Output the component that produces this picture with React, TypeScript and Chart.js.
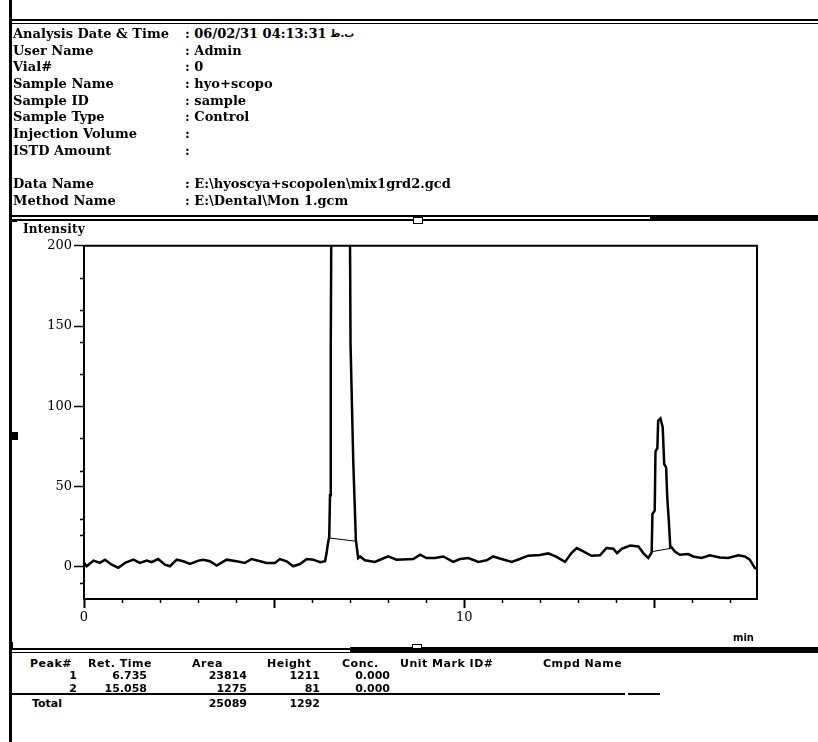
import React, { useEffect, useRef } from "react";
import { Chart, registerables } from "chart.js";

Chart.register(...registerables);

// ---------- chromatogram data ----------
const TIME_MIN = [
  0.0, 0.07, 0.25, 0.42, 0.55, 0.73, 0.9, 1.08, 1.3, 1.47, 1.65, 1.78, 1.95, 2.13, 2.26, 2.44, 2.61, 2.79,
  3.01, 3.14, 3.31, 3.49, 3.75, 4.01, 4.23, 4.41, 4.63, 4.8, 5.02, 5.15, 5.33, 5.5, 5.68, 5.86, 6.03, 6.21,
  6.34, 6.38, 6.41, 6.45, 6.47, 6.49, 6.55, 6.62, 6.7, 6.74, 6.8, 6.88, 6.95, 7.01, 7.08, 7.15, 7.21, 7.26,
  7.39, 7.65, 7.83, 8.0, 8.22, 8.66, 8.84, 9.01, 9.23, 9.45, 9.71, 9.89, 10.11, 10.37, 10.59, 10.76, 10.98,
  11.25, 11.46, 11.68, 11.99, 12.21, 12.43, 12.65, 12.82, 12.96, 13.13, 13.35, 13.57, 13.74, 13.92, 14.02,
  14.14, 14.36, 14.58, 14.71, 14.84, 14.93, 14.95, 15.01, 15.03, 15.08, 15.1, 15.16, 15.22, 15.26, 15.31,
  15.34, 15.38, 15.42, 15.45, 15.54, 15.67, 15.89, 16.02, 16.24, 16.46, 16.72, 16.94, 17.21, 17.38, 17.51,
  17.64, 17.7,
];
const INTENSITY = [
  2.5, 0.4, 3.9, 2.5, 4.5, 1.4, -0.6, 2.5, 4.5, 2.5, 3.9, 2.9, 4.9, 1.4, 0.4, 4.5, 3.5, 1.8,
  3.9, 4.5, 3.5, 0.8, 4.5, 3.5, 2.5, 4.9, 3.5, 2.5, 2.5, 4.9, 3.5, 0.4, 1.8, 4.9, 4.5, 2.9,
  3.5, 8.6, 13.8, 18.9, 44.6, 137, 450, 900, 1180, 1228, 1150, 800, 420, 139, 67, 17, 5.5, 6.5,
  4.1, 3.1, 4.9, 6.5, 4.5, 4.9, 7.6, 5.5, 5.5, 6.5, 3.1, 4.9, 5.5, 3.1, 4.1, 6.5, 4.9,
  3.1, 4.9, 7.0, 7.4, 8.4, 6.2, 3.1, 8.6, 11.7, 9.6, 6.9, 7.2, 11.7, 11.3, 8.6,
  11.3, 13.3, 12.7, 8.6, 5.5, 9.0, 33, 35, 72, 74, 91, 92.5, 87, 64, 62,
  43, 29, 12, 12.3, 9.6, 7.6, 8.0, 6.5, 5.5, 7.2, 5.9, 5.5, 7.2, 6.5, 4.5,
  -0.6, -1.5,
];
// integration baselines of the two peaks
const BASE1_T = [6.45, 7.15];
const BASE1_V = [18.0, 16.0];
const BASE2_T = [14.94, 15.42];
const BASE2_V = [9.5, 11.5];

// axes
const X_MIN = 0;
const X_MAX = 17.7;
const X_MAJOR_STEP = 5;
const X_LABELS = [0, 10];
const X_MINOR = [1, 2, 3, 4, 6, 7, 8, 9, 11, 12, 13, 14, 16, 17];
const Y_MIN = -20;
const Y_MAX = 200;
const Y_STEP = 50;
const Y_MINOR = [180, 160, 140, 120, 80, 60, 30, 20, -10];

// header
const HEADER_LABELS = [
  "Analysis Date & Time",
  "User Name",
  "Vial#",
  "Sample Name",
  "Sample ID",
  "Sample Type",
  "Injection Volume",
  "ISTD Amount",
  "Data Name",
  "Method Name",
];
const HEADER_VALUES = [
  "06/02/31 04:13:31",
  "Admin",
  "0",
  "hyo+scopo",
  "sample",
  "Control",
  "",
  "",
  "E:\\hyoscya+scopolen\\mix1grd2.gcd",
  "E:\\Dental\\Mon 1.gcm",
];
const HEADER_ROWS_Y = [33, 50, 66.5, 83, 100, 116.5, 133, 150, 183, 200];

// peak table
const TABLE_HEADERS = ["Peak#", "Ret. Time", "Area", "Height", "Conc.", "Unit Mark ID#", "Cmpd Name"];
const TABLE_HEADER_X = [30, 88, 192, 267, 342, 400, 543];
const PEAK_IDS = ["1", "2"];
const RET_TIMES = ["6.735", "15.058"];
const AREAS = ["23814", "1275"];
const HEIGHTS = ["1211", "81"];
const CONCS = ["0.000", "0.000"];
const TOTAL_AREA = "25089";
const TOTAL_HEIGHT = "1292";
const COL_RIGHT = [77, 147, 247, 320, 390];
const ROWS_Y = [675.5, 688];

const decorPlugin = {
  id: "decor",
  afterDraw(chart: any) {
    const { ctx, chartArea, scales } = chart;
    const { left, right, top, bottom } = chartArea;
    ctx.save();
    ctx.strokeStyle = "#000";
    ctx.lineWidth = 2;
    ctx.beginPath();
    ctx.moveTo(left, top);
    ctx.lineTo(right + 1, top);
    ctx.moveTo(right, top);
    ctx.lineTo(right, bottom);
    ctx.stroke();
    ctx.lineWidth = 1.5;
    X_MINOR.forEach((v) => {
      const px = Math.round(scales.x.getPixelForValue(v)) + 0.5;
      ctx.beginPath();
      ctx.moveTo(px, bottom);
      ctx.lineTo(px, bottom + 4);
      ctx.stroke();
    });
    Y_MINOR.forEach((v) => {
      const py = Math.round(scales.y.getPixelForValue(v)) + 0.5;
      ctx.beginPath();
      ctx.moveTo(left - 4, py);
      ctx.lineTo(left, py);
      ctx.stroke();
    });
    ctx.restore();
  },
};

function ChromChart() {
  const ref = useRef<HTMLCanvasElement | null>(null);
  useEffect(() => {
    if (!ref.current) return;
    const chart = new Chart(ref.current, {
      type: "line",
      data: {
        datasets: [
          {
            data: TIME_MIN.map((t, i) => ({ x: t, y: INTENSITY[i] })),
            borderColor: "#000",
            borderWidth: 2.5,
            pointRadius: 0,
            tension: 0,
            clip: 0,
          } as any,
          {
            data: BASE1_T.map((t, i) => ({ x: t, y: BASE1_V[i] })),
            borderColor: "#000",
            borderWidth: 1,
            pointRadius: 0,
          },
          {
            data: BASE2_T.map((t, i) => ({ x: t, y: BASE2_V[i] })),
            borderColor: "#000",
            borderWidth: 1,
            pointRadius: 0,
          },
        ],
      },
      options: {
        animation: false,
        responsive: false,
        devicePixelRatio: 1,
        layout: { padding: { top: 7, right: 61, left: 0, bottom: 0 } },
        plugins: { legend: { display: false }, tooltip: { enabled: false } },
        scales: {
          x: {
            type: "linear",
            min: X_MIN,
            max: X_MAX,
            border: { color: "#000", width: 2 },
            grid: { drawOnChartArea: false, tickLength: 9, tickColor: "#000", tickWidth: 2 },
            ticks: {
              stepSize: X_MAJOR_STEP,
              autoSkip: false,
              includeBounds: false,
              maxRotation: 0,
              padding: 2,
              color: "#000",
              font: { family: "DejaVu Serif", size: 13 },
              callback: (v: any) => (X_LABELS.includes(Number(v)) ? String(v) : ""),
            },
            afterFit: (s: any) => {
              s.height = 41;
            },
          },
          y: {
            type: "linear",
            min: Y_MIN,
            max: Y_MAX,
            border: { color: "#000", width: 2 },
            grid: { drawOnChartArea: false, tickLength: 10, tickColor: "#000", tickWidth: 1.5 },
            ticks: {
              stepSize: Y_STEP,
              includeBounds: false,
              padding: 2,
              color: "#000",
              font: { family: "DejaVu Serif", size: 13 },
            },
            afterFit: (s: any) => {
              s.width = 84;
            },
          },
        },
      },
      plugins: [decorPlugin],
    });
    return () => chart.destroy();
  }, []);
  return (
    <canvas
      ref={ref}
      width={818}
      height={404}
      style={{ position: "absolute", left: 0, top: 236, width: 818, height: 404 }}
    />
  );
}

const abs = (s: React.CSSProperties): React.CSSProperties => ({ position: "absolute", ...s });

function Txt({ x, y, children, size = 13, family = "DejaVu Serif", weight = "bold", right, ls = 0 }: any) {
  const lh = size + 4;
  if (right !== undefined) {
    return (
      <div
        style={abs({
          left: right - 150,
          width: 150,
          top: y - lh / 2,
          height: lh,
          lineHeight: `${lh}px`,
          fontSize: size,
          fontFamily: family,
          fontWeight: weight,
          textAlign: "right",
          whiteSpace: "pre",
          letterSpacing: ls,
          color: "#000",
        })}
      >
        {children}
      </div>
    );
  }
  return (
    <div
      style={abs({
        left: x,
        top: y - lh / 2,
        height: lh,
        lineHeight: `${lh}px`,
        fontSize: size,
        fontFamily: family,
        fontWeight: weight,
        whiteSpace: "pre",
        letterSpacing: ls,
        color: "#000",
      })}
    >
      {children}
    </div>
  );
}

export default function App() {
  const tbl = { family: "DejaVu Sans", size: 11, weight: "bold" };
  return (
    <div
      style={abs({
        left: 0,
        top: 0,
        width: 818,
        height: 742,
        background: "#fff",
        overflow: "hidden",
      })}
    >
      <ChromChart />

      {/* frame lines */}
      <div style={abs({ left: 9, top: 0, width: 3, height: 742, background: "#000" })} />
      <div style={abs({ left: 9, top: 19, width: 809, height: 2, background: "#000" })} />
      <div style={abs({ left: 9, top: 22.5, width: 809, height: 1.5, background: "#000" })} />

      <div style={abs({ left: 9, top: 215, width: 809, height: 2, background: "#000" })} />
      <div style={abs({ left: 9, top: 219, width: 809, height: 2, background: "#000" })} />
      <div style={abs({ left: 650, top: 215, width: 168, height: 6, background: "#000" })} />
      <div
        style={abs({ left: 413, top: 217, width: 8, height: 5, background: "#fff", border: "1.5px solid #000" })}
      />
      <div style={abs({ left: 11, top: 220, width: 6, height: 2, background: "#000" })} />
      <div style={abs({ left: 10, top: 432, width: 8, height: 8, background: "#000" })} />

      <div style={abs({ left: 9, top: 648, width: 345, height: 1.5, background: "#000" })} />
      <div style={abs({ left: 9, top: 651.5, width: 345, height: 1.5, background: "#000" })} />
      <div style={abs({ left: 350, top: 647, width: 468, height: 6, background: "#000" })} />
      <div
        style={abs({ left: 412, top: 644, width: 8, height: 3, background: "#fff", border: "1.5px solid #000" })}
      />
      <div style={abs({ left: 11, top: 642, width: 2, height: 6, background: "#000" })} />

      {/* header */}
      {HEADER_LABELS.map((l, i) => (
        <Txt key={"l" + i} x={13} y={HEADER_ROWS_Y[i]}>
          {l}
        </Txt>
      ))}
      {HEADER_VALUES.map((v, i) => (
        <Txt key={"v" + i} x={185} y={HEADER_ROWS_Y[i]}>
          {": " + v}
        </Txt>
      ))}
      <Txt x={330} y={HEADER_ROWS_Y[0] + 1} size={10} family="DejaVu Sans">
        {"ب.ظ"}
      </Txt>

      {/* chart labels */}
      <Txt x={23} y={229} size={12} ls={0.2}>
        Intensity
      </Txt>
      <Txt x={733} y={638} size={10} family="DejaVu Sans" weight="bold">
        min
      </Txt>

      {/* table */}
      {TABLE_HEADERS.map((h, i) => (
        <Txt key={"h" + i} x={TABLE_HEADER_X[i]} y={663} {...tbl} ls={0.5}>
          {h}
        </Txt>
      ))}
      {PEAK_IDS.map((p, i) => (
        <React.Fragment key={"r" + i}>
          <Txt right={COL_RIGHT[0]} y={ROWS_Y[i]} {...tbl}>
            {p}
          </Txt>
          <Txt right={COL_RIGHT[1]} y={ROWS_Y[i]} {...tbl}>
            {RET_TIMES[i]}
          </Txt>
          <Txt right={COL_RIGHT[2]} y={ROWS_Y[i]} {...tbl}>
            {AREAS[i]}
          </Txt>
          <Txt right={COL_RIGHT[3]} y={ROWS_Y[i]} {...tbl}>
            {HEIGHTS[i]}
          </Txt>
          <Txt right={COL_RIGHT[4]} y={ROWS_Y[i]} {...tbl}>
            {CONCS[i]}
          </Txt>
        </React.Fragment>
      ))}
      <div style={abs({ left: 10, top: 693, width: 615, height: 1.5, background: "#000" })} />
      <div style={abs({ left: 628, top: 693, width: 32, height: 1.5, background: "#000" })} />
      <Txt x={32} y={703} {...tbl}>
        Total
      </Txt>
      <Txt right={COL_RIGHT[2]} y={703} {...tbl}>
        {TOTAL_AREA}
      </Txt>
      <Txt right={COL_RIGHT[3]} y={703} {...tbl}>
        {TOTAL_HEIGHT}
      </Txt>
    </div>
  );
}
